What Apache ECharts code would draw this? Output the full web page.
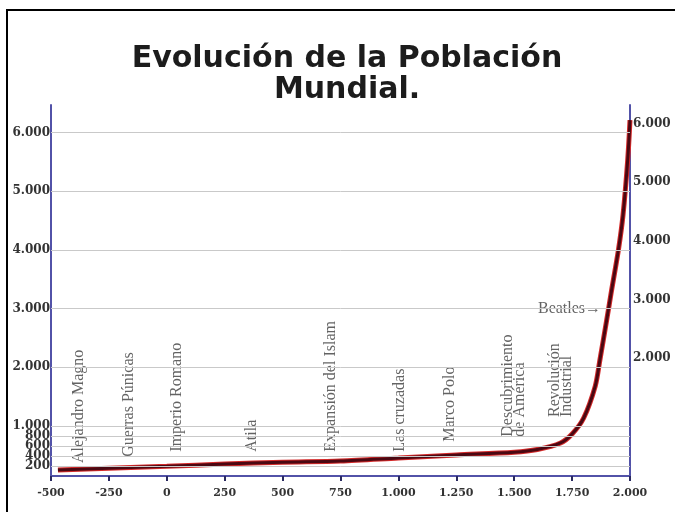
<!DOCTYPE html>
<html><head><meta charset="utf-8">
<script src="https://cdn.jsdelivr.net/npm/echarts@6/dist/echarts.min.js"></script>
<style>html,body{margin:0;padding:0;background:#fff}#c{width:675px;height:512px}</style>
</head><body><div id="c"></div>
<script>
// ---- data ----
const years      = [-470, -250, 0, 250, 500, 750, 1000, 1250, 1500, 1600, 1700, 1750, 1800, 1850, 1870, 1900, 1920, 1950, 1970, 1990, 2000];
const population = [ 120,  156, 196, 238, 275, 300,  360,  420,  475,  530,  660,  840, 1136, 1680, 2124, 2820, 3300, 4000, 4600, 5530, 6210];
const yLeftTicks  = [200, 400, 600, 800, 1000, 2000, 3000, 4000, 5000, 6000];
const yRightTicks = [2000, 3000, 4000, 5000, 6000];
const annotNames  = ['Alejandro Magno', 'Guerras Púnicas', 'Imperio Romano', 'Atila', 'Expansión del Islam', 'Las cruzadas', 'Marco Polo', 'Descubrimiento\nde América', 'Revolución\nIndustrial', 'Beatles→'];
const annotYears  = [-378, -162, 43, 367, 709, 1007, 1223, 1499, 1700, 1875];
const annotLevels = [260, 386, 486, 486, 486, 486, 686, 786, 1153, 3000];
const titleText = 'Evolución de la Población\nMundial.';

// The original vertical scale is compressed below 1.000 (piecewise linear)
const K = 0.852;
const T = v => v <= 1000 ? v * K : 1000 * K + (v - 1000);
const Tinv = t => t <= 1000 * K ? t / K : t - 1000 * K + 1000;
const fmt = v => {
  v = Math.round(v);
  if (Math.abs(v) >= 1000) { const s = String(Math.abs(v)); return (v < 0 ? '-' : '') + s.slice(0, s.length - 3) + '.' + s.slice(-3); }
  return String(v);
};
const yFmt = v => fmt(Math.round(Tinv(v) / 10) * 10);

// the crowded small ticks are split over two overlapping left axes so none gets hidden
const crowded = v => v < 1000 && (v / 200) % 2 === 0;
const leftA = yLeftTicks.filter(v => !crowded(v));
const leftB = yLeftTicks.filter(crowded);

const lineData = years.map((y, i) => [y, T(population[i])]);
const annotData = annotYears.map((y, i) => {
  const isBeatles = i === annotNames.length - 1;
  return {
    value: [y, T(annotLevels[i])],
    name: annotNames[i],
    label: isBeatles
      ? { rotate: 0, align: 'right', verticalAlign: 'middle' }
      : { rotate: 90, align: 'left', verticalAlign: 'middle' }
  };
});

const axisBlue = '#5252a8';
const yLabelFont = { fontFamily: 'DejaVu Serif', fontWeight: 'bold', fontSize: 12, color: '#333' };
const chart = echarts.init(document.getElementById('c'), null, { renderer: 'canvas' });
chart.setOption({
  animation: false,
  backgroundColor: '#ffffff',
  title: {
    text: titleText, left: 342, top: 39, textAlign: 'center',
    textStyle: { fontFamily: 'DejaVu Sans', fontWeight: 'bold', fontSize: 30, lineHeight: 31, color: '#1c1c1c' }
  },
  graphic: [{
    type: 'rect', silent: true, z: 100,
    shape: { x: 7, y: 10, width: 800, height: 700 },
    style: { fill: 'none', stroke: '#000', lineWidth: 2 }
  }],
  grid: { left: 51, right: 45, top: 105, bottom: 36, outerBoundsMode: 'none', containLabel: false },
  xAxis: {
    type: 'value', min: -500, max: 2000, interval: 250,
    axisLine: { show: true, onZero: false, lineStyle: { color: axisBlue, width: 2 } },
    axisTick: { show: true, length: 5, lineStyle: { color: '#2a2a60', width: 2 } },
    splitLine: { show: false },
    axisLabel: { margin: 12, formatter: fmt, hideOverlap: false, showMinLabel: true, showMaxLabel: true,
      fontFamily: 'DejaVu Serif', fontWeight: 'bold', fontSize: 11, color: '#333' }
  },
  yAxis: [{
    type: 'value', min: 0, max: 6320, position: 'left',
    axisLine: { show: true, onZero: false, lineStyle: { color: axisBlue, width: 2 } },
    axisTick: { show: false },
    splitLine: { show: false },
    axisLabel: Object.assign({ margin: 1, customValues: leftA.map(T), formatter: yFmt,
      showMinLabel: true, showMaxLabel: true, hideOverlap: false }, yLabelFont)
  }, {
    type: 'value', min: 0, max: 6320, position: 'right',
    axisLine: { show: true, onZero: false, lineStyle: { color: axisBlue, width: 2 } },
    axisTick: { show: false },
    splitLine: { show: false },
    axisLabel: Object.assign({ margin: 3, customValues: yRightTicks.map(T), formatter: yFmt,
      verticalAlign: 'bottom', lineHeight: 14, padding: [0, 0, 2, 0], hideOverlap: false, showMinLabel: true, showMaxLabel: true }, yLabelFont)
  }, {
    type: 'value', min: 0, max: 6320, position: 'left', offset: 0,
    axisLine: { show: false, onZero: false },
    axisTick: { show: false },
    splitLine: { show: false },
    axisLabel: Object.assign({ margin: 1, customValues: leftB.map(T), formatter: yFmt,
      showMinLabel: true, showMaxLabel: true, hideOverlap: false }, yLabelFont)
  }],
  series: [{
    type: 'scatter', z: 1, symbolSize: 0, silent: true,
    data: annotData,
    label: { show: true, position: 'inside', formatter: p => p.name,
      fontFamily: 'Liberation Serif', fontSize: 16, lineHeight: 12, color: '#3c3c3c' },
    markLine: {
      silent: true, symbol: 'none', label: { show: false },
      lineStyle: { color: '#c9c9c9', width: 1, type: 'solid' },
      data: yLeftTicks.map(v => ({ yAxis: T(v) }))
    }
  }, {
    type: 'line', z: 2, data: lineData, showSymbol: false, silent: true,
    smooth: 0.3,
    lineStyle: { color: '#d42a2a', width: 5 }
  }, {
    type: 'line', z: 3, data: lineData, showSymbol: false, silent: true,
    smooth: 0.3,
    lineStyle: { color: '#4a0812', width: 3 }
  }]
});
</script></body></html>
